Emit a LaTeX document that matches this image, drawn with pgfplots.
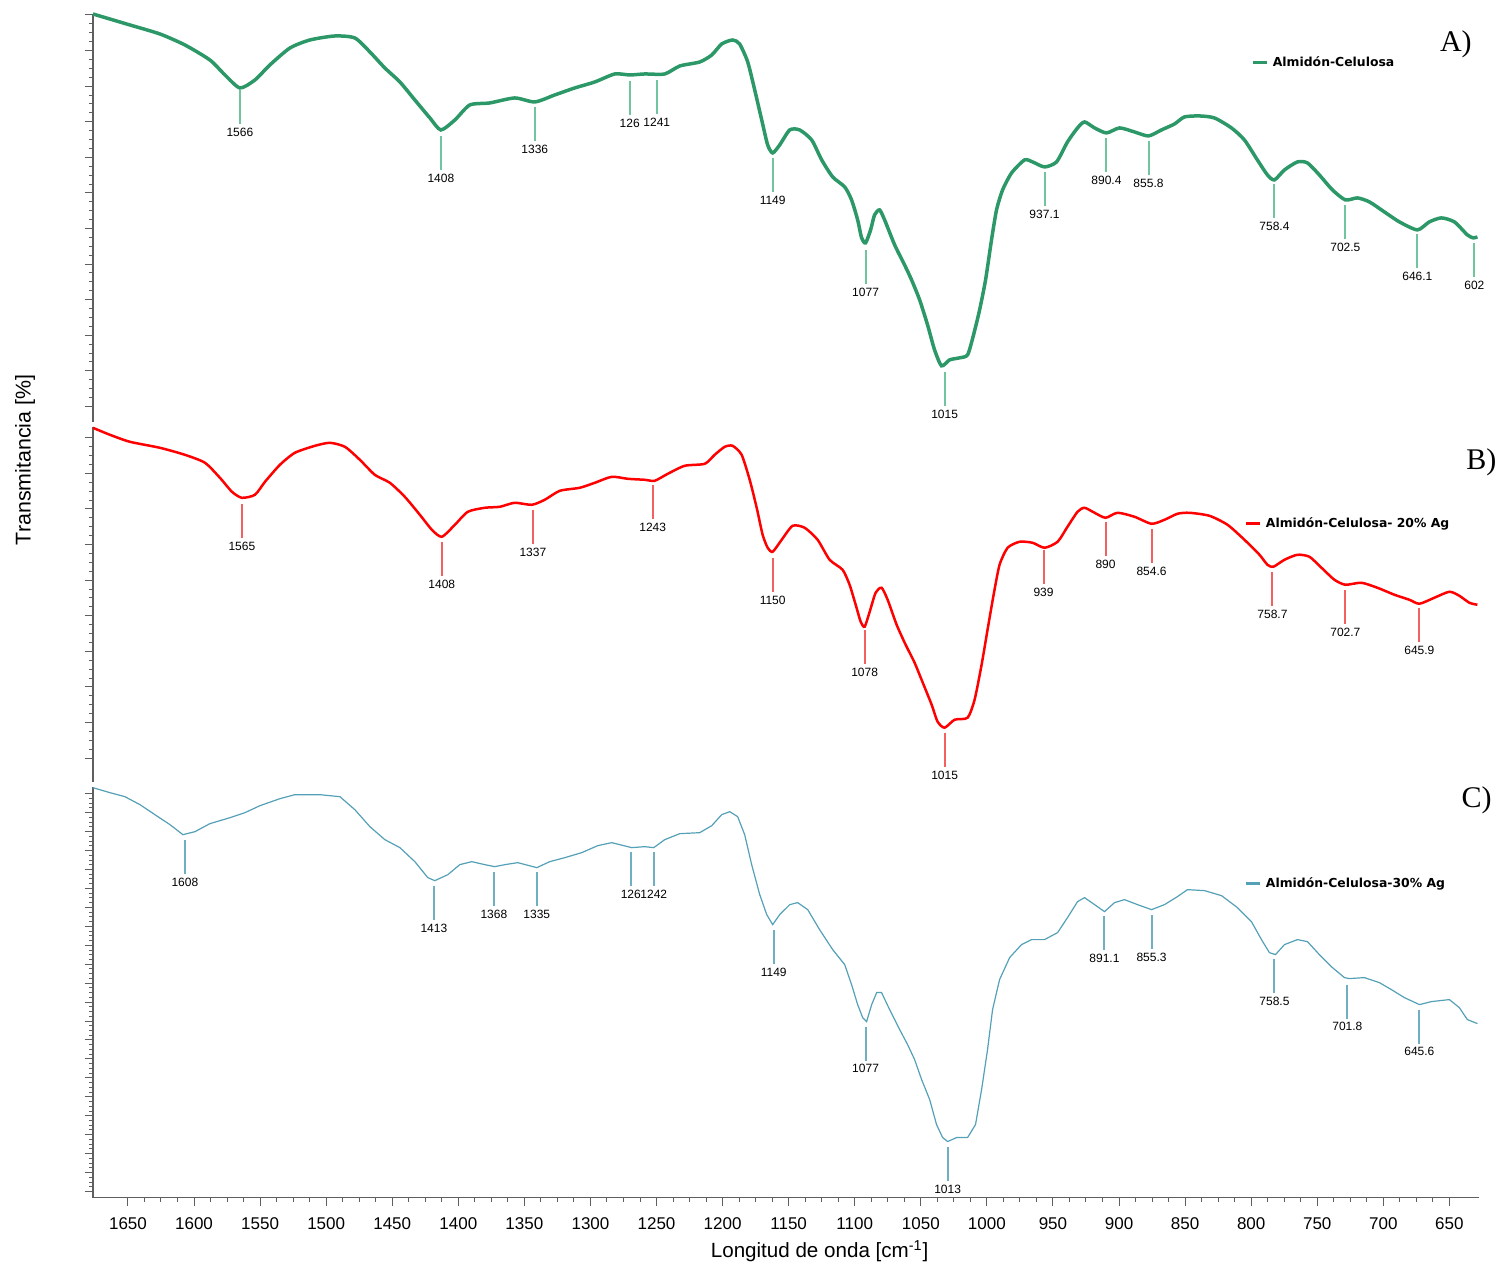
\documentclass[border=0pt]{standalone}
\usepackage{fontspec}
\setmainfont{Liberation Sans}
\newfontfamily\dejavu{DejaVu Sans}
\newfontfamily\serifl{Liberation Serif}
\usepackage{pgfplots}
\pgfplotsset{compat=1.18}
\definecolor{cA}{RGB}{44,152,104}
\definecolor{mA}{RGB}{112,196,158}
\definecolor{cB}{RGB}{255,0,0}
\definecolor{mB}{RGB}{242,96,96}
\definecolor{cC}{RGB}{84,160,182}
\definecolor{mC}{RGB}{112,174,194}
\definecolor{axgray}{RGB}{95,95,95}
\newcommand\pkfont{\fontsize{6}{7}\selectfont}
\newcommand\legf{\dejavu\bfseries\fontsize{6.2}{7}\selectfont}
\pgfplotsset{
  panel/.style={
    width=693.5pt, scale only axis,
    xmin=627.3, xmax=1676.5, x dir=reverse,
    ymin=0,
    axis y line*=left,
    axis line style={-, draw=axgray, line width=0.6pt},
    yticklabels={},
    tick align=outside,
    major tick length=4pt, minor tick length=2pt,
    every tick/.style={draw=axgray, line width=0.5pt},
    minor y tick num=3,
    clip=false,
    legend style={draw=none, fill=none, font=\legf, anchor=west, inner sep=0pt, legend cell align=left},
    legend image code/.code={\draw[##1, line width=1.5pt] (0pt,0pt) -- (7pt,0pt);},
  },
  peaks/.style={only marks, mark=|, mark size=8.5pt, mark options={line width=#1},
    point meta=explicit symbolic, nodes near coords, nodes near coords align={below},
    every node near coord/.append style={yshift=-10pt, inner sep=0pt, font=\pkfont, text=black},
    forget plot},
}
\begin{document}
\begin{tikzpicture}
\path (-46.5pt,-34pt) rectangle (705pt,599pt);
% ---------------- Panel A
\begin{axis}[panel, at={(0pt,388pt)}, height=204pt, ymax=408, hide x axis,
  ytick={15.4,51,...,407},
  legend style={at={(axis description cs:0.8356,0.88)}}]
\addplot[cA, line width=1.75pt, smooth, tension=0.4] table {
x y
1676.5 408
1648.5 397
1625.8 388
1606.9 377
1588.0 362
1576.6 347
1565.3 334
1553.9 342
1542.6 357
1527.4 374
1512.3 382
1493.4 386
1478.3 384
1466.9 370
1455.6 354
1444.2 340
1432.9 322
1421.5 304
1413.2 292
1402.6 302
1391.3 317
1376.2 319
1357.3 324
1342.1 320
1327.0 327
1311.9 334
1296.7 340
1281.6 348
1270.3 347
1258.9 348
1243.8 348
1232.4 356
1217.3 360
1208.2 367
1200.7 378
1192.4 382
1187.1 378
1181.0 360
1175.7 332
1170.4 302
1165.9 277
1162.1 269
1156.8 277
1149.2 292
1141.7 292
1132.6 282
1125.0 262
1116.7 245
1107.6 235
1102.4 222
1097.8 202
1094.8 184
1091.8 179
1088.0 192
1085.0 207
1081.2 212
1077.4 202
1069.8 177
1062.3 157
1057.0 142
1050.9 122
1044.9 97
1039.6 72
1034.3 56
1028.2 62
1020.7 64
1014.6 67
1010.1 87
1005.5 112
1001.0 142
996.5 182
992.7 212
988.1 232
981.3 249
971.5 262
965.4 260
956.4 255
947.3 260
939.0 280
931.4 294
926.1 300
918.5 294
909.5 289
899.6 294
888.3 290
877.7 286
867.9 292
858.0 298
850.5 305
839.1 306
827.8 304
814.9 294
805.1 282
795.3 262
787.7 247
782.4 242
774.8 252
765.0 260
757.4 259
748.4 247
738.5 232
728.7 222
719.6 224
710.5 220
699.2 210
687.8 200
674.2 192
665.2 200
656.1 204
646.2 200
636.4 187
631.9 184
628.8 185
};
\addlegendentry{Almidón-Celulosa}
\addplot[mA, peaks=1pt] table[meta=l] {
x y l
1565.3 315 1566
1413.2 269 1408
1342.1 297.5 1336
1270.3 324 126
1249.8 324.5 1241
1162.1 247 1149
1091.8 155 1077
1032.0 33 1015
956.4 233 937.1
909.5 267 890.4
877.7 264 855.8
782.4 221 758.4
728.7 199.5 702.5
674.2 170.5 646.1
631.1 162 602
};
\node[font=\serifl\fontsize{15}{15}\selectfont] at (axis description cs:0.983,0.926) {A)};
\end{axis}
% ---------------- Panel B
\begin{axis}[panel, at={(0pt,208pt)}, height=177.5pt, ymax=355, hide x axis,
  ytick={23.6,59.2,...,344},
  ylabel={Transmitancia [\%]},
  every axis y label/.style={at={(axis description cs:-0.049,0.907)}, rotate=90, anchor=center, font=\fontsize{10.7}{12}\selectfont},
  legend style={at={(axis description cs:0.8306,0.727)}}]
\addplot[cB, line width=1.25pt, smooth, tension=0.4] table {
x y
1676.5 354
1663.6 347
1648.5 340
1625.8 334
1606.9 327
1591.7 319
1580.4 304
1571.3 290
1563.8 284
1553.9 287
1546.3 300
1535.0 317
1523.7 329
1508.5 336
1497.2 339
1485.8 335
1474.5 322
1463.2 307
1451.8 299
1440.5 285
1429.1 267
1420.0 252
1412.5 245
1402.6 257
1392.8 270
1380.0 274
1368.6 275
1357.3 279
1344.4 277
1334.6 282
1323.2 291
1308.1 294
1296.7 299
1283.9 305
1271.8 303
1258.9 302
1251.4 301
1241.5 308
1228.7 316
1213.5 318
1206.0 327
1198.4 335
1192.4 336
1185.6 327
1179.5 302
1174.2 274
1169.7 247
1165.9 234
1162.1 230
1155.3 242
1147.0 256
1137.9 254
1128.1 242
1119.0 222
1109.2 212
1103.9 197
1099.3 177
1095.5 160
1092.5 155
1088.7 170
1084.2 189
1079.7 194
1075.1 182
1068.3 157
1061.5 137
1054.7 119
1047.9 97
1041.8 77
1037.3 60
1032.0 54
1024.4 62
1014.6 64
1009.3 82
1004.0 117
999.5 152
994.9 187
990.4 217
984.3 234
975.3 240
965.4 239
956.4 234
946.5 240
939.0 255
931.4 270
926.1 274
918.5 269
910.2 264
901.1 269
888.3 265
875.4 258
865.6 262
855.8 268
846.7 269
831.6 266
817.9 257
805.1 242
793.7 227
787.7 217
783.2 215
774.8 222
765.0 227
755.9 225
746.8 214
737.0 202
728.7 197
716.6 199
704.5 194
691.6 187
680.3 182
672.7 178
661.4 184
650.0 190
642.5 186
634.9 179
628.8 177
};
\addlegendentry{Almidón-Celulosa- 20\% Ag}
\addplot[mB, peaks=1pt] table[meta=l] {
x y l
1563.8 260.5 1565
1412.5 222.5 1408
1343.6 254.5 1337
1252.9 279.5 1243
1162.1 207 1150
1092.5 134.5 1078
1032.0 32 1015
957.1 214.5 939
910.2 242.5 890
875.4 235.5 854.6
783.9 192.5 758.7
728.7 174.5 702.7
672.7 157 645.9
};
\node[font=\serifl\fontsize{15}{15}\selectfont] at (axis description cs:1.0014,0.901) {B)};
\end{axis}
% ---------------- Panel C
\begin{axis}[panel, at={(0pt,0pt)}, height=205.5pt, ymax=411,
  axis x line*=bottom,
  ytick={6,24.95,...,404},
  xtick={650,700,...,1650}, minor x tick num=3,
  /pgf/number format/assume math mode=true,
  /pgf/number format/1000 sep={},
  xticklabel style={font=\fontsize{8.5}{10}\selectfont, yshift=-2.5pt},
  xlabel={Longitud de onda [cm\textsuperscript{-1}]},
  every axis x label/.style={at={(axis description cs:0.5,0)}, anchor=center, yshift=-27pt, xshift=16.75pt, font=\fontsize{10.3}{12}\selectfont},
  legend style={at={(axis description cs:0.8306,0.764)}}]
\addplot[cC, line width=0.6pt] table {
x y
1676.5 410
1663.6 405
1652.3 401
1640.9 393
1629.6 383
1618.2 373
1608.4 363
1599.3 366
1588.0 374
1572.8 380
1561.5 385
1550.1 392
1535.0 399
1523.7 403
1504.8 403
1489.6 401
1478.3 388
1466.9 371
1455.6 358
1444.2 350
1432.9 336
1423.1 320
1417.8 317
1407.9 323
1398.9 333
1389.8 336
1380.0 333
1372.4 331
1364.8 333
1355.0 335
1340.6 330
1330.8 336
1319.4 340
1306.6 345
1294.5 352
1283.9 355
1268.8 350
1258.9 351
1252.1 350
1243.8 358
1232.4 364
1217.3 365
1208.2 372
1200.7 383
1194.6 386
1188.6 381
1183.3 363
1178.0 333
1171.9 303
1166.6 283
1162.1 273
1156.8 283
1149.2 293
1143.2 295
1135.6 288
1126.6 268
1116.7 248
1107.6 233
1102.4 213
1097.8 193
1094.0 180
1091.0 176
1087.2 193
1083.4 205
1079.7 205
1073.6 188
1066.0 168
1060.0 153
1054.7 138
1049.4 118
1043.3 98
1038.1 73
1033.5 60
1029.7 56
1022.9 60
1014.6 60
1008.6 73
1004.0 108
999.5 148
995.7 188
990.4 218
982.8 240
973.8 253
966.2 258
956.4 258
946.5 265
939.0 280
931.4 296
926.1 300
918.5 293
911.0 286
903.4 295
895.9 298
886.0 293
875.4 288
865.6 293
855.8 301
848.2 308
835.3 307
822.5 302
810.4 290
799.8 276
792.2 258
786.2 245
781.6 243
774.8 253
765.0 258
757.4 256
748.4 243
738.5 230
729.4 220
725.7 219
714.3 220
703.0 215
693.9 208
684.1 200
672.7 193
663.6 196
650.0 198
642.5 190
636.4 178
628.8 174
};
\addlegendentry{Almidón-Celulosa-30\% Ag}
\addplot[mC, peaks=1pt] table[meta=l] {
x y l
1606.9 340.5 1608
1418.5 295 1413
1373.1 308.5 1368
1340.6 308.5 1335
1269.5 328.5 126
1252.1 328.5 1242
1161.3 250.5 1149
1091.8 154 1077
1029.7 33.5 1013
911.0 264.5 891.1
875.4 265.5 855.3
782.4 221.5 758.5
727.2 196 701.8
672.7 171 645.6
};
\node[font=\serifl\fontsize{15}{15}\selectfont] at (axis description cs:0.998,0.968) {C)};
\end{axis}
\end{tikzpicture}
\end{document}
